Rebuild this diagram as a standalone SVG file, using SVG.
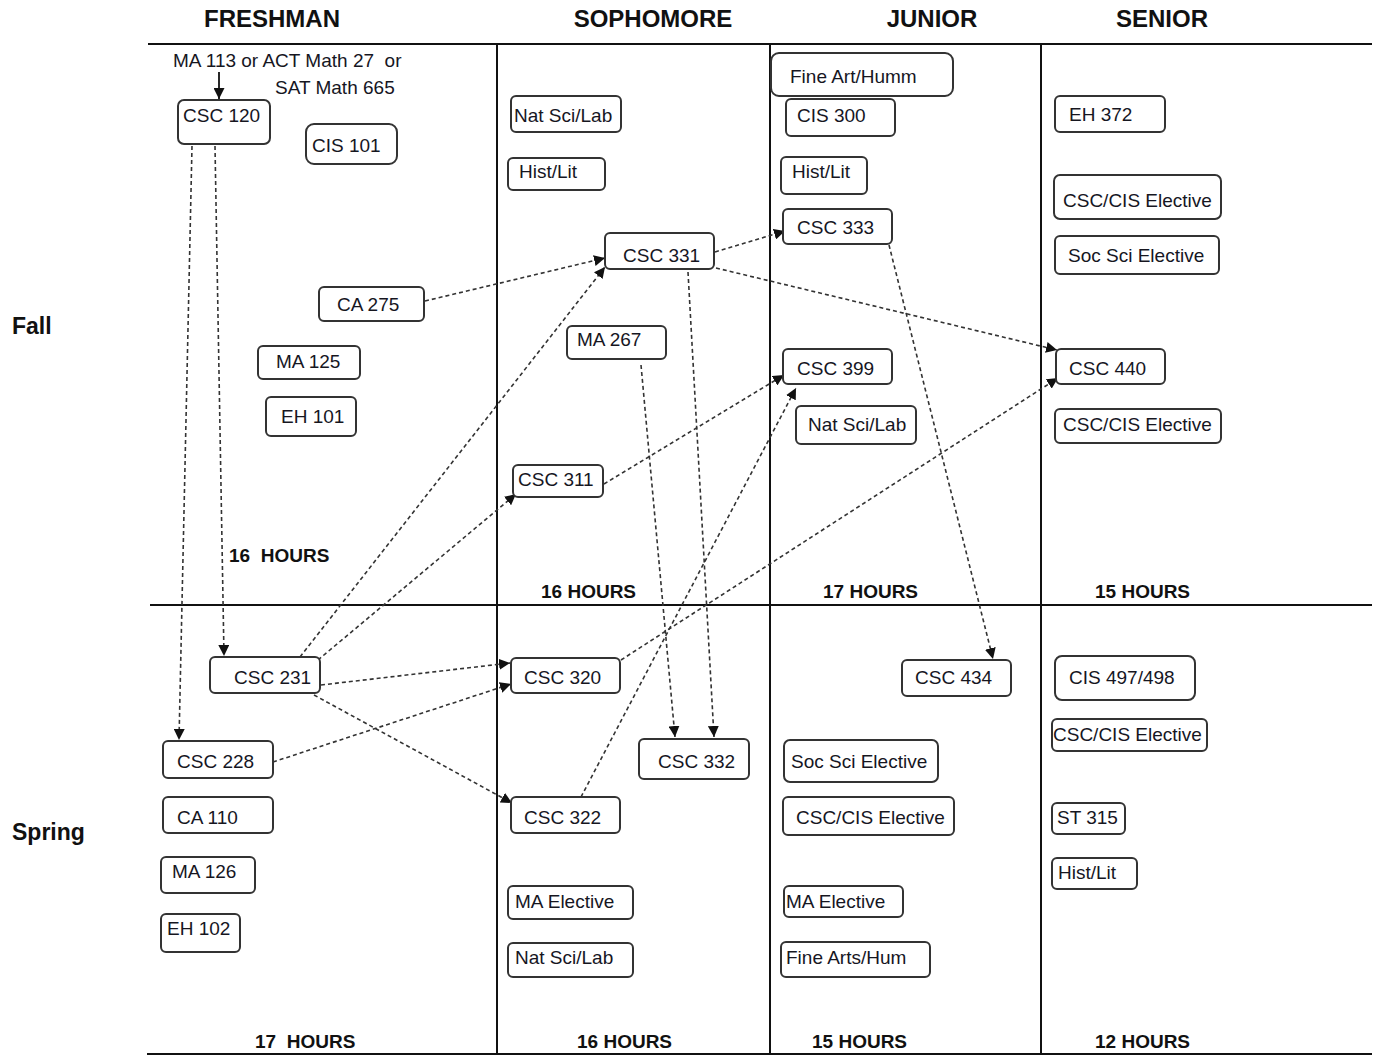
<svg xmlns="http://www.w3.org/2000/svg" width="1376" height="1057" viewBox="0 0 1376 1057">
<style>
  .grid { stroke: #111; stroke-width: 2; fill: none; }
  .box { fill: #fff; stroke: #333; stroke-width: 2; }
  .t { font-family: "Liberation Sans", Arial, sans-serif; font-size: 19px; fill: #16161f; white-space: pre; }
  .h { font-family: "Liberation Sans", Arial, sans-serif; font-size: 24px; font-weight: bold; fill: #111; }
  .sem { font-family: "Liberation Sans", Arial, sans-serif; font-size: 23px; font-weight: bold; fill: #111; }
  .hrs { font-family: "Liberation Sans", Arial, sans-serif; font-size: 19px; font-weight: bold; fill: #111; white-space: pre; }
  .dep { stroke: #333; stroke-width: 1.6; stroke-dasharray: 4 3; fill: none; marker-end: url(#arr); }
  .solid { stroke: #111; stroke-width: 1.8; fill: none; marker-end: url(#arr); }
</style>
<defs>
  <marker id="arr" viewBox="0 0 10 10" refX="10" refY="5" markerWidth="11" markerHeight="11" markerUnits="userSpaceOnUse" orient="auto">
    <path d="M0,0 L10,5 L0,10 z" fill="#111"/>
  </marker>
</defs>
<rect width="1376" height="1057" fill="#fff"/>

<g id="grid">
  <line class="grid" x1="148" y1="44" x2="1372" y2="44"/>
  <line class="grid" x1="150" y1="605" x2="1372" y2="605"/>
  <line class="grid" x1="147" y1="1054" x2="1372" y2="1054"/>
  <line class="grid" x1="497" y1="44" x2="497" y2="1054"/>
  <line class="grid" x1="770" y1="44" x2="770" y2="1054"/>
  <line class="grid" x1="1041" y1="44" x2="1041" y2="1054"/>
</g>

<g id="labels">
  <text class="h" x="272" y="27" text-anchor="middle">FRESHMAN</text>
  <text class="h" x="653" y="27" text-anchor="middle">SOPHOMORE</text>
  <text class="h" x="932" y="27" text-anchor="middle">JUNIOR</text>
  <text class="h" x="1162" y="27" text-anchor="middle">SENIOR</text>
  <text class="sem" x="12" y="334">Fall</text>
  <text class="sem" x="12" y="840">Spring</text>
  <text class="t" x="173" y="67">MA 113 or ACT Math 27  or</text>
  <text class="t" x="275" y="94">SAT Math 665</text>
  <text class="hrs" x="229" y="562">16  HOURS</text>
  <text class="hrs" x="541" y="598">16 HOURS</text>
  <text class="hrs" x="823" y="598">17 HOURS</text>
  <text class="hrs" x="1095" y="598">15 HOURS</text>
  <text class="hrs" x="255" y="1048">17  HOURS</text>
  <text class="hrs" x="577" y="1048">16 HOURS</text>
  <text class="hrs" x="812" y="1048">15 HOURS</text>
  <text class="hrs" x="1095" y="1048">12 HOURS</text>
</g>

<g id="connectors">
  <line class="solid" x1="219" y1="72" x2="219" y2="99"/>
  <line class="dep" x1="192" y1="146" x2="179" y2="740"/>
  <line class="dep" x1="215" y1="146" x2="224" y2="656"/>
  <line class="dep" x1="425" y1="301" x2="605" y2="258"/>
  <line class="dep" x1="300" y1="657" x2="605" y2="267"/>
  <line class="dep" x1="318" y1="660" x2="516" y2="494"/>
  <line class="dep" x1="321" y1="685" x2="510" y2="663"/>
  <line class="dep" x1="273" y1="762" x2="511" y2="684"/>
  <line class="dep" x1="314" y1="695" x2="512" y2="803"/>
  <line class="dep" x1="715" y1="252" x2="785" y2="231"/>
  <line class="dep" x1="716" y1="268" x2="1057" y2="350"/>
  <line class="dep" x1="688" y1="272" x2="714" y2="737"/>
  <line class="dep" x1="641" y1="365" x2="675" y2="737"/>
  <line class="dep" x1="604" y1="484" x2="784" y2="375"/>
  <line class="dep" x1="581" y1="797" x2="796" y2="388"/>
  <line class="dep" x1="621" y1="660" x2="1058" y2="378"/>
  <line class="dep" x1="889" y1="245" x2="993" y2="659"/>
</g>

<g id="csc120"><rect class="box" x="178" y="100" width="92" height="44" rx="6"/><text class="t" x="183" y="122">CSC 120</text></g>
<g id="cis101"><rect class="box" x="306" y="124" width="91" height="40" rx="8"/><text class="t" x="312" y="152">CIS 101</text></g>
<g id="ca275"><rect class="box" x="319" y="287" width="105" height="34" rx="5"/><text class="t" x="337" y="311">CA 275</text></g>
<g id="ma125"><rect class="box" x="258" y="346" width="102" height="33" rx="5"/><text class="t" x="276" y="368">MA 125</text></g>
<g id="eh101"><rect class="box" x="266" y="397" width="90" height="39" rx="5"/><text class="t" x="281" y="423">EH 101</text></g>

<g id="natscilab-so-f"><rect class="box" x="511" y="96" width="110" height="36" rx="5"/><text class="t" x="514" y="122">Nat Sci/Lab</text></g>
<g id="histlit-so-f"><rect class="box" x="508" y="158" width="97" height="32" rx="5"/><text class="t" x="519" y="178">Hist/Lit</text></g>
<g id="csc331"><rect class="box" x="605" y="233" width="109" height="36" rx="5"/><text class="t" x="623" y="262">CSC 331</text></g>
<g id="ma267"><rect class="box" x="567" y="326" width="99" height="33" rx="5"/><text class="t" x="577" y="346">MA 267</text></g>
<g id="csc311"><rect class="box" x="513" y="465" width="90" height="32" rx="5"/><text class="t" x="518" y="486">CSC 311</text></g>

<g id="fineart-jr-f"><rect class="box" x="771" y="53" width="182" height="43" rx="8"/><text class="t" x="790" y="83">Fine Art/Humm</text></g>
<g id="cis300"><rect class="box" x="786" y="99" width="109" height="37" rx="5"/><text class="t" x="797" y="122">CIS 300</text></g>
<g id="histlit-jr-f"><rect class="box" x="781" y="157" width="86" height="37" rx="5"/><text class="t" x="792" y="178">Hist/Lit</text></g>
<g id="csc333"><rect class="box" x="783" y="209" width="109" height="35" rx="5"/><text class="t" x="797" y="234">CSC 333</text></g>
<g id="csc399"><rect class="box" x="783" y="349" width="109" height="35" rx="5"/><text class="t" x="797" y="375">CSC 399</text></g>
<g id="natscilab-jr-f"><rect class="box" x="796" y="406" width="120" height="38" rx="5"/><text class="t" x="808" y="431">Nat Sci/Lab</text></g>

<g id="eh372"><rect class="box" x="1055" y="96" width="110" height="36" rx="5"/><text class="t" x="1069" y="121">EH 372</text></g>
<g id="cscelec-sr-f1"><rect class="box" x="1054" y="175" width="167" height="44" rx="6"/><text class="t" x="1063" y="207">CSC/CIS Elective</text></g>
<g id="socsci-sr-f"><rect class="box" x="1055" y="236" width="164" height="38" rx="5"/><text class="t" x="1068" y="262">Soc Sci Elective</text></g>
<g id="csc440"><rect class="box" x="1056" y="349" width="109" height="35" rx="5"/><text class="t" x="1069" y="375">CSC 440</text></g>
<g id="cscelec-sr-f2"><rect class="box" x="1055" y="409" width="166" height="34" rx="5"/><text class="t" x="1063" y="431">CSC/CIS Elective</text></g>

<g id="csc231"><rect class="box" x="210" y="657" width="110" height="36" rx="5"/><text class="t" x="234" y="684">CSC 231</text></g>
<g id="csc228"><rect class="box" x="163" y="741" width="110" height="37" rx="5"/><text class="t" x="177" y="768">CSC 228</text></g>
<g id="ca110"><rect class="box" x="163" y="797" width="110" height="36" rx="5"/><text class="t" x="177" y="824">CA 110</text></g>
<g id="ma126"><rect class="box" x="161" y="857" width="94" height="36" rx="5"/><text class="t" x="172" y="878">MA 126</text></g>
<g id="eh102"><rect class="box" x="161" y="914" width="79" height="38" rx="5"/><text class="t" x="167" y="935">EH 102</text></g>

<g id="csc320"><rect class="box" x="511" y="658" width="109" height="35" rx="5"/><text class="t" x="524" y="684">CSC 320</text></g>
<g id="csc322"><rect class="box" x="511" y="797" width="109" height="36" rx="5"/><text class="t" x="524" y="824">CSC 322</text></g>
<g id="csc332"><rect class="box" x="639" y="739" width="110" height="40" rx="5"/><text class="t" x="658" y="768">CSC 332</text></g>
<g id="maelec-so-s"><rect class="box" x="508" y="886" width="125" height="33" rx="5"/><text class="t" x="515" y="908">MA Elective</text></g>
<g id="natscilab-so-s"><rect class="box" x="508" y="943" width="125" height="34" rx="5"/><text class="t" x="515" y="964">Nat Sci/Lab</text></g>

<g id="csc434"><rect class="box" x="902" y="660" width="109" height="36" rx="5"/><text class="t" x="915" y="684">CSC 434</text></g>
<g id="socsci-jr-s"><rect class="box" x="784" y="740" width="154" height="42" rx="6"/><text class="t" x="791" y="768">Soc Sci Elective</text></g>
<g id="cscelec-jr-s"><rect class="box" x="783" y="797" width="171" height="38" rx="5"/><text class="t" x="796" y="824">CSC/CIS Elective</text></g>
<g id="maelec-jr-s"><rect class="box" x="784" y="886" width="119" height="31" rx="5"/><text class="t" x="786" y="908">MA Elective</text></g>
<g id="finearts-jr-s"><rect class="box" x="781" y="942" width="149" height="35" rx="5"/><text class="t" x="786" y="964">Fine Arts/Hum</text></g>

<g id="cis497"><rect class="box" x="1055" y="656" width="140" height="44" rx="7"/><text class="t" x="1069" y="684">CIS 497/498</text></g>
<g id="cscelec-sr-s"><rect class="box" x="1052" y="719" width="155" height="32" rx="5"/><text class="t" x="1053" y="741">CSC/CIS Elective</text></g>
<g id="st315"><rect class="box" x="1052" y="803" width="73" height="31" rx="5"/><text class="t" x="1057" y="824">ST 315</text></g>
<g id="histlit-sr-s"><rect class="box" x="1052" y="858" width="85" height="31" rx="5"/><text class="t" x="1058" y="879">Hist/Lit</text></g>
</svg>
